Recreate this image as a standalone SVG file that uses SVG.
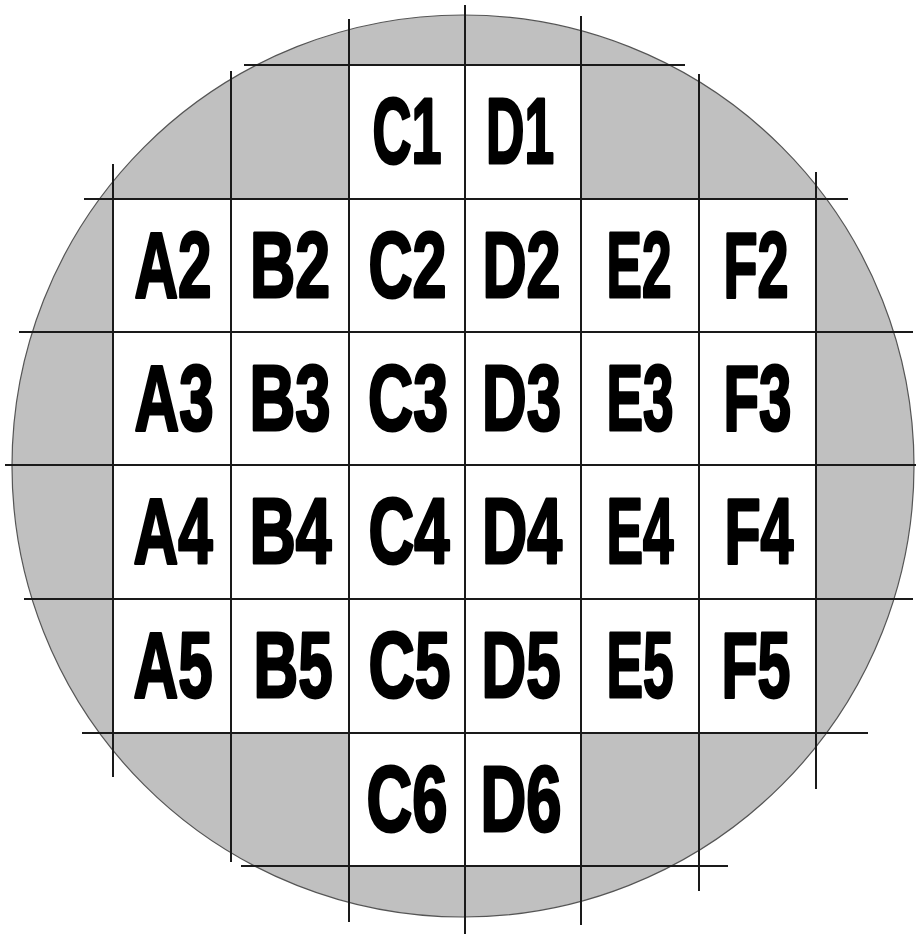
<svg xmlns="http://www.w3.org/2000/svg" width="916" height="934" viewBox="0 0 916 934">
<style>
.wafer{fill:#c0c0c0;stroke:#555;stroke-width:1.2}
.cell{fill:#fff;stroke:none}
.grid line{stroke:#1a1a1a;stroke-width:2}
.lbl{font-family:"Liberation Sans",Arial,sans-serif;font-weight:bold;font-size:92px;fill:#000;stroke:#000;stroke-width:3;stroke-linejoin:round;text-anchor:middle}
</style>
<rect width="916" height="934" fill="#fff"/>
<g id="wafer"><circle class="wafer" cx="463" cy="466" r="451"/></g>
<g id="cells">
<g id="C1"><rect class="cell" x="349" y="65" width="116" height="134"/><text class="lbl" x="407" y="163" textLength="69" lengthAdjust="spacingAndGlyphs">C1</text></g>
<g id="D1"><rect class="cell" x="465" y="65" width="116" height="134"/><text class="lbl" x="520" y="163" textLength="68" lengthAdjust="spacingAndGlyphs">D1</text></g>
<g id="A2"><rect class="cell" x="113" y="199" width="118" height="133"/><text class="lbl" x="173" y="296.5" textLength="77" lengthAdjust="spacingAndGlyphs">A2</text></g>
<g id="B2"><rect class="cell" x="231" y="199" width="118" height="133"/><text class="lbl" x="290" y="296.5" textLength="80" lengthAdjust="spacingAndGlyphs">B2</text></g>
<g id="C2"><rect class="cell" x="349" y="199" width="116" height="133"/><text class="lbl" x="407.5" y="296.5" textLength="78" lengthAdjust="spacingAndGlyphs">C2</text></g>
<g id="D2"><rect class="cell" x="465" y="199" width="116" height="133"/><text class="lbl" x="521.5" y="296.5" textLength="78" lengthAdjust="spacingAndGlyphs">D2</text></g>
<g id="E2"><rect class="cell" x="581" y="199" width="118" height="133"/><text class="lbl" x="639" y="296.5" textLength="65" lengthAdjust="spacingAndGlyphs">E2</text></g>
<g id="F2"><rect class="cell" x="699" y="199" width="117" height="133"/><text class="lbl" x="756" y="296.5" textLength="65" lengthAdjust="spacingAndGlyphs">F2</text></g>
<g id="A3"><rect class="cell" x="113" y="332" width="118" height="133"/><text class="lbl" x="174" y="429.5" textLength="79" lengthAdjust="spacingAndGlyphs">A3</text></g>
<g id="B3"><rect class="cell" x="231" y="332" width="118" height="133"/><text class="lbl" x="290" y="429.5" textLength="81" lengthAdjust="spacingAndGlyphs">B3</text></g>
<g id="C3"><rect class="cell" x="349" y="332" width="116" height="133"/><text class="lbl" x="408" y="429.5" textLength="80" lengthAdjust="spacingAndGlyphs">C3</text></g>
<g id="D3"><rect class="cell" x="465" y="332" width="116" height="133"/><text class="lbl" x="521.5" y="429.5" textLength="79" lengthAdjust="spacingAndGlyphs">D3</text></g>
<g id="E3"><rect class="cell" x="581" y="332" width="118" height="133"/><text class="lbl" x="640" y="429.5" textLength="67" lengthAdjust="spacingAndGlyphs">E3</text></g>
<g id="F3"><rect class="cell" x="699" y="332" width="117" height="133"/><text class="lbl" x="757.5" y="429.5" textLength="68" lengthAdjust="spacingAndGlyphs">F3</text></g>
<g id="A4"><rect class="cell" x="113" y="465" width="118" height="134"/><text class="lbl" x="173" y="563" textLength="79" lengthAdjust="spacingAndGlyphs">A4</text></g>
<g id="B4"><rect class="cell" x="231" y="465" width="118" height="134"/><text class="lbl" x="290.5" y="563" textLength="82" lengthAdjust="spacingAndGlyphs">B4</text></g>
<g id="C4"><rect class="cell" x="349" y="465" width="116" height="134"/><text class="lbl" x="409" y="563" textLength="81" lengthAdjust="spacingAndGlyphs">C4</text></g>
<g id="D4"><rect class="cell" x="465" y="465" width="116" height="134"/><text class="lbl" x="522" y="563" textLength="80" lengthAdjust="spacingAndGlyphs">D4</text></g>
<g id="E4"><rect class="cell" x="581" y="465" width="118" height="134"/><text class="lbl" x="640" y="563" textLength="67" lengthAdjust="spacingAndGlyphs">E4</text></g>
<g id="F4"><rect class="cell" x="699" y="465" width="117" height="134"/><text class="lbl" x="759" y="563" textLength="69" lengthAdjust="spacingAndGlyphs">F4</text></g>
<g id="A5"><rect class="cell" x="113" y="599" width="118" height="134"/><text class="lbl" x="173" y="697" textLength="79" lengthAdjust="spacingAndGlyphs">A5</text></g>
<g id="B5"><rect class="cell" x="231" y="599" width="118" height="134"/><text class="lbl" x="293" y="697" textLength="79" lengthAdjust="spacingAndGlyphs">B5</text></g>
<g id="C5"><rect class="cell" x="349" y="599" width="116" height="134"/><text class="lbl" x="409.5" y="697" textLength="82" lengthAdjust="spacingAndGlyphs">C5</text></g>
<g id="D5"><rect class="cell" x="465" y="599" width="116" height="134"/><text class="lbl" x="521" y="697" textLength="79" lengthAdjust="spacingAndGlyphs">D5</text></g>
<g id="E5"><rect class="cell" x="581" y="599" width="118" height="134"/><text class="lbl" x="640" y="697" textLength="67" lengthAdjust="spacingAndGlyphs">E5</text></g>
<g id="F5"><rect class="cell" x="699" y="599" width="117" height="134"/><text class="lbl" x="756" y="697" textLength="69" lengthAdjust="spacingAndGlyphs">F5</text></g>
<g id="C6"><rect class="cell" x="349" y="733" width="116" height="133"/><text class="lbl" x="407" y="830.5" textLength="81" lengthAdjust="spacingAndGlyphs">C6</text></g>
<g id="D6"><rect class="cell" x="465" y="733" width="116" height="133"/><text class="lbl" x="521" y="830.5" textLength="81" lengthAdjust="spacingAndGlyphs">D6</text></g>
</g>
<g id="grid" class="grid">
<line x1="113" y1="164" x2="113" y2="777"/>
<line x1="231" y1="71" x2="231" y2="862"/>
<line x1="349" y1="19" x2="349" y2="922"/>
<line x1="465" y1="5" x2="465" y2="934"/>
<line x1="581" y1="16" x2="581" y2="925"/>
<line x1="699" y1="74" x2="699" y2="891"/>
<line x1="816" y1="172" x2="816" y2="789"/>
<line x1="244" y1="65" x2="685" y2="65"/>
<line x1="84" y1="199" x2="848" y2="199"/>
<line x1="19" y1="332" x2="913" y2="332"/>
<line x1="5" y1="465" x2="916" y2="465"/>
<line x1="24" y1="599" x2="913" y2="599"/>
<line x1="82" y1="733" x2="868" y2="733"/>
<line x1="241" y1="866" x2="728" y2="866"/>
</g>
</svg>
